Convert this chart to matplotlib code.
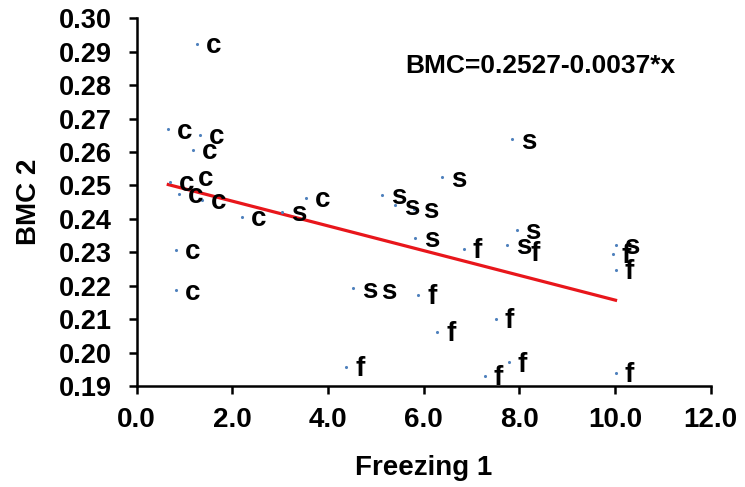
import numpy as np
import matplotlib
matplotlib.use("Agg")
import matplotlib.pyplot as plt
from matplotlib.ticker import FormatStrFormatter

plt.rcParams["font.family"] = ["Liberation Sans", "DejaVu Sans"]
plt.rcParams["font.weight"] = "bold"

# points: (freezing 1, bmc 2, group letter)
freezing = [1.25, 0.66, 1.32, 1.18, 0.70, 1.08, 0.89, 1.36, 2.20, 3.53, 0.82, 0.82,
            3.04, 4.52, 4.93, 7.84, 6.38, 5.12, 5.40, 5.80, 5.82, 7.94, 7.75, 10.01,
            4.38, 6.84, 8.05, 9.95, 10.01, 5.89, 6.28, 7.51, 7.28, 7.78, 10.01]
bmc = [0.2923, 0.2668, 0.2652, 0.2606, 0.2511, 0.2526, 0.2474, 0.2456, 0.2407, 0.2463, 0.2307, 0.2186,
       0.2420, 0.2192, 0.2187, 0.2638, 0.2524, 0.2471, 0.2440, 0.2430, 0.2344, 0.2367, 0.2322, 0.2322,
       0.1958, 0.2310, 0.2301, 0.2295, 0.2247, 0.2172, 0.2061, 0.2101, 0.1930, 0.1971, 0.1940]
group = ["c"] * 12 + ["s"] * 12 + ["f"] * 11

intercept = 0.2527
slope = -0.0037

fig = plt.figure(figsize=(7.45, 4.87), dpi=100)
ax = fig.add_axes([0.1835, 0.2074, 0.7705, 0.755])

ax.scatter(freezing, bmc, s=5, color="#4F81BD", zorder=3, linewidths=0)
for x, y, g in zip(freezing, bmc, group):
    ax.annotate(g, (x, y), xytext=(6.5, -6.7), textcoords="offset points",
                ha="left", va="baseline", fontsize=20, fontweight="bold", zorder=4)

xs = np.array([min(freezing), max(freezing)])
ax.plot(xs, intercept + slope * xs, color="#E8161B", lw=2.3, zorder=2)

ax.text(5.61, 0.2857, "BMC=0.2527-0.0037*x", fontsize=19, fontweight="bold", va="center")

ax.set_xlim(0, 12)
ax.set_ylim(0.19, 0.30)
ax.set_xticks(np.arange(0, 12.1, 2))
ax.set_yticks(np.arange(0.19, 0.3001, 0.01))
ax.xaxis.set_major_formatter(FormatStrFormatter("%.1f"))
ax.yaxis.set_major_formatter(FormatStrFormatter("%.2f"))
ax.tick_params(axis="both", direction="out", length=6, width=1.8)
ax.tick_params(axis="y", labelsize=19.5, pad=12)
ax.tick_params(axis="x", labelsize=20, pad=9)
for lab in ax.get_xticklabels() + ax.get_yticklabels():
    lab.set_fontweight("bold")

for side in ["top", "right"]:
    ax.spines[side].set_visible(False)
for side in ["left", "bottom"]:
    ax.spines[side].set_linewidth(1.8)

ax.set_xlabel("Freezing 1", fontsize=20, fontweight="bold", labelpad=16)
ax.set_ylabel("BMC 2", fontsize=20, fontweight="bold", labelpad=12)

fig.savefig("out.png", dpi=100)
